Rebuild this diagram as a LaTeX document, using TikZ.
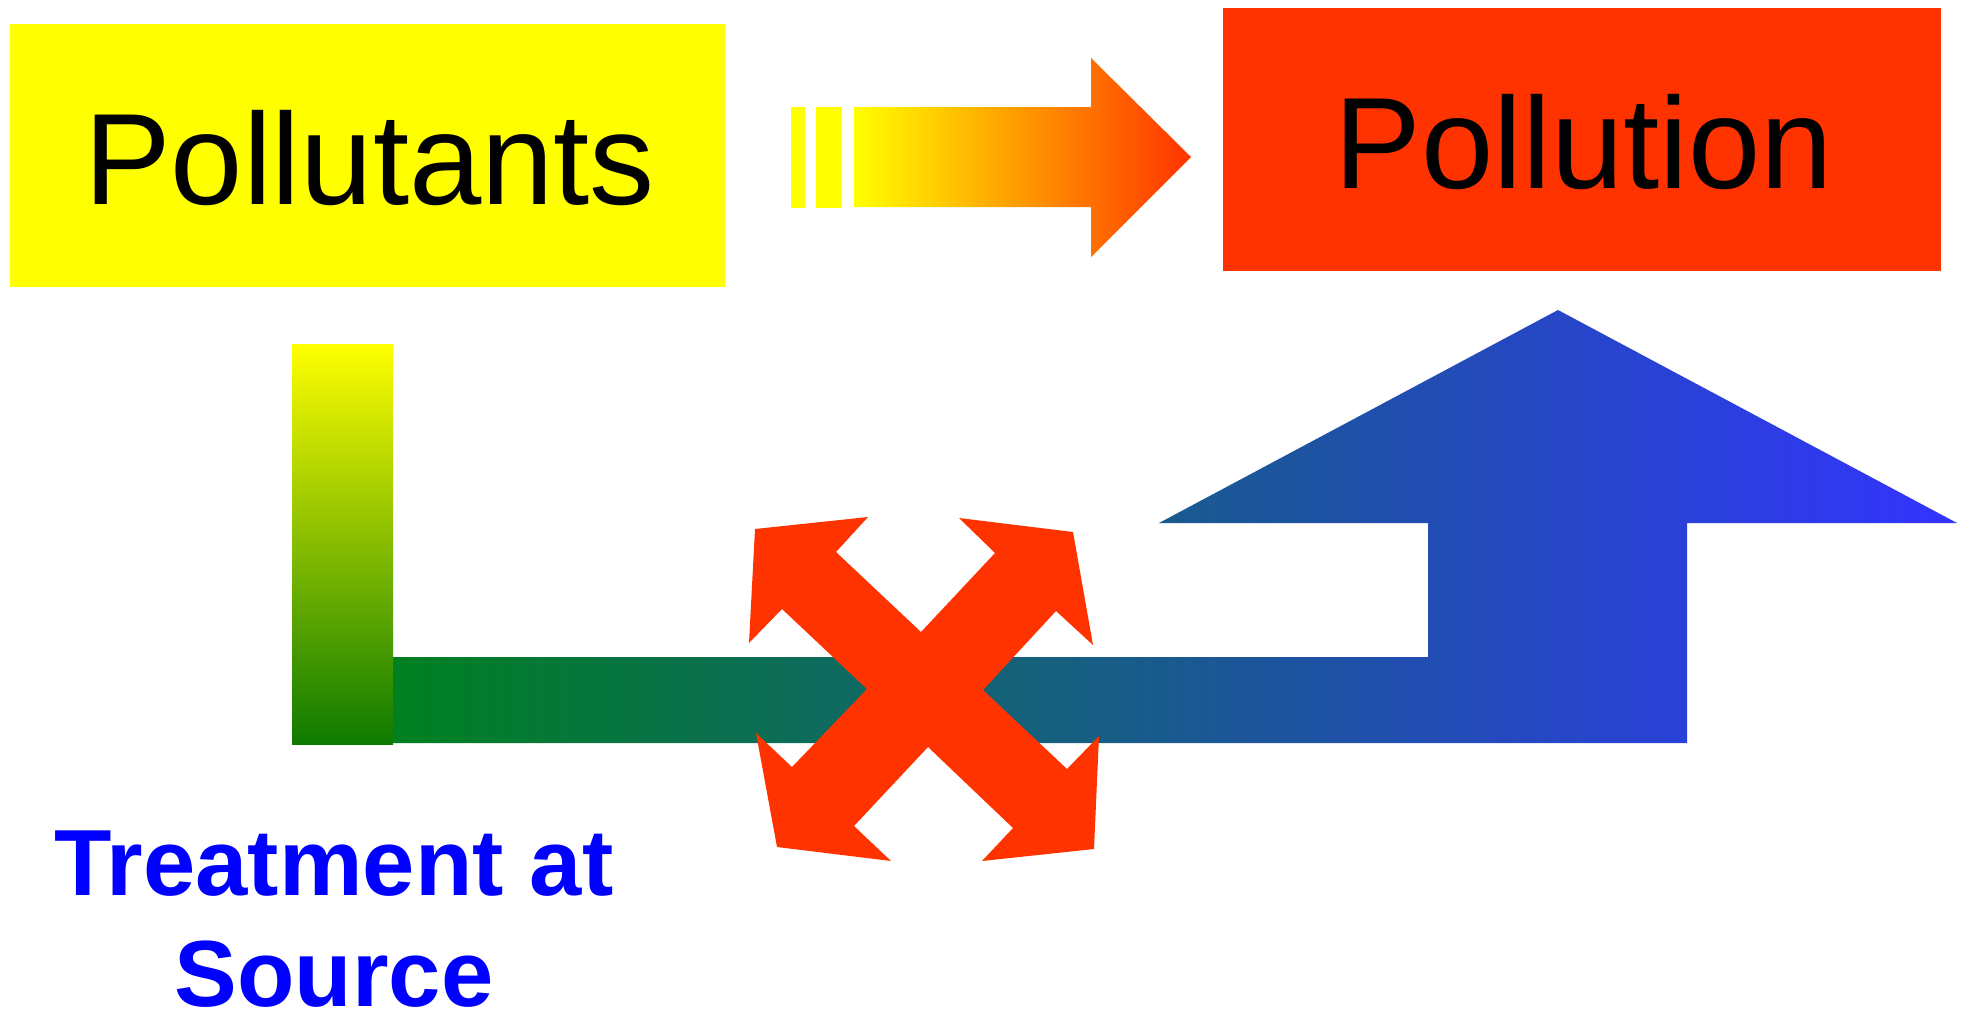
\documentclass[tikz,border=0pt]{standalone}
\usepackage{fontspec}
\setmainfont{Liberation Sans}
\definecolor{pyellow}{HTML}{FFFF00}
\definecolor{pred}{HTML}{FF3300}
\definecolor{porange}{HTML}{FF9900}
\definecolor{pgreen}{HTML}{008020}
\definecolor{pgreenb}{HTML}{0E7A00}
\definecolor{polive}{HTML}{C8D400}
\definecolor{pteal}{HTML}{2860C4}
\definecolor{pblue}{HTML}{3333FF}
\definecolor{tblue}{HTML}{0000FF}
\tikzset{
  box/.style={draw=none, inner sep=0pt, anchor=north west},
  boxtext/.style={anchor=base, inner sep=0pt,
    font=\fontsize{130}{150}\selectfont, text=black},
  label/.style={inner sep=0pt, text=tblue, align=center,
    font=\fontsize{94}{111}\selectfont\bfseries},
}
\begin{document}
\begin{tikzpicture}[x=1pt,y=-1pt]
\useasboundingbox (0,0) rectangle (1967,1012);

% source and result boxes
\node[box, fill=pyellow, minimum width=715pt, minimum height=263pt] (pollutants) at (10,24) {};
\node[box, fill=pred, minimum width=718pt, minimum height=263pt] (pollution) at (1223,8) {};
\node[boxtext] (ptxt) at (369.5,204) {Pollutants};
\node[boxtext] (ntxt) at (1584,188) {Pollution};

% horizontal arrow between the boxes
\fill[pyellow] (791,107) rectangle (805,208);
\fill[pyellow] (816,107) rectangle (842,208);
\shade[left color=pyellow, middle color=porange, right color=pred]
  (854,107) -- (1091,107) -- (1091,58) -- (1191,157) -- (1091,257)
  -- (1091,207) -- (854,207) -- cycle;

% vertical bar from the pollutants
\shade[top color=pyellow, middle color=polive, bottom color=pgreenb]
  (292,344) rectangle (393,744);

% bent arrow up to the pollution box
\shade[left color=pgreen, middle color=pteal, right color=pblue]
  (393,657) -- (1428,657) -- (1428,523) -- (1159,523) -- (1558,310)
  -- (1957,523) -- (1687,523) -- (1687,743) -- (393,743) -- cycle;

% blocking cross with four arrowheads
\fill[pred]
  (755,529) -- (868,517) -- (836,552) -- (921,632) -- (995,553) -- (959,518)
  -- (1073,532) -- (1093,645) -- (1056,611) -- (983,690) -- (1067,769)
  -- (1099,736) -- (1094,849) -- (982,861) -- (1013,828) -- (928,747)
  -- (854,826) -- (891,861) -- (777,847) -- (756,733) -- (792,767)
  -- (867,689) -- (782,609) -- (749,643) -- cycle;

% caption (base anchor sits on the last line)
\node[label, anchor=base] (treat) at (334,1006) {Treatment at\\Source};
\end{tikzpicture}
\end{document}
